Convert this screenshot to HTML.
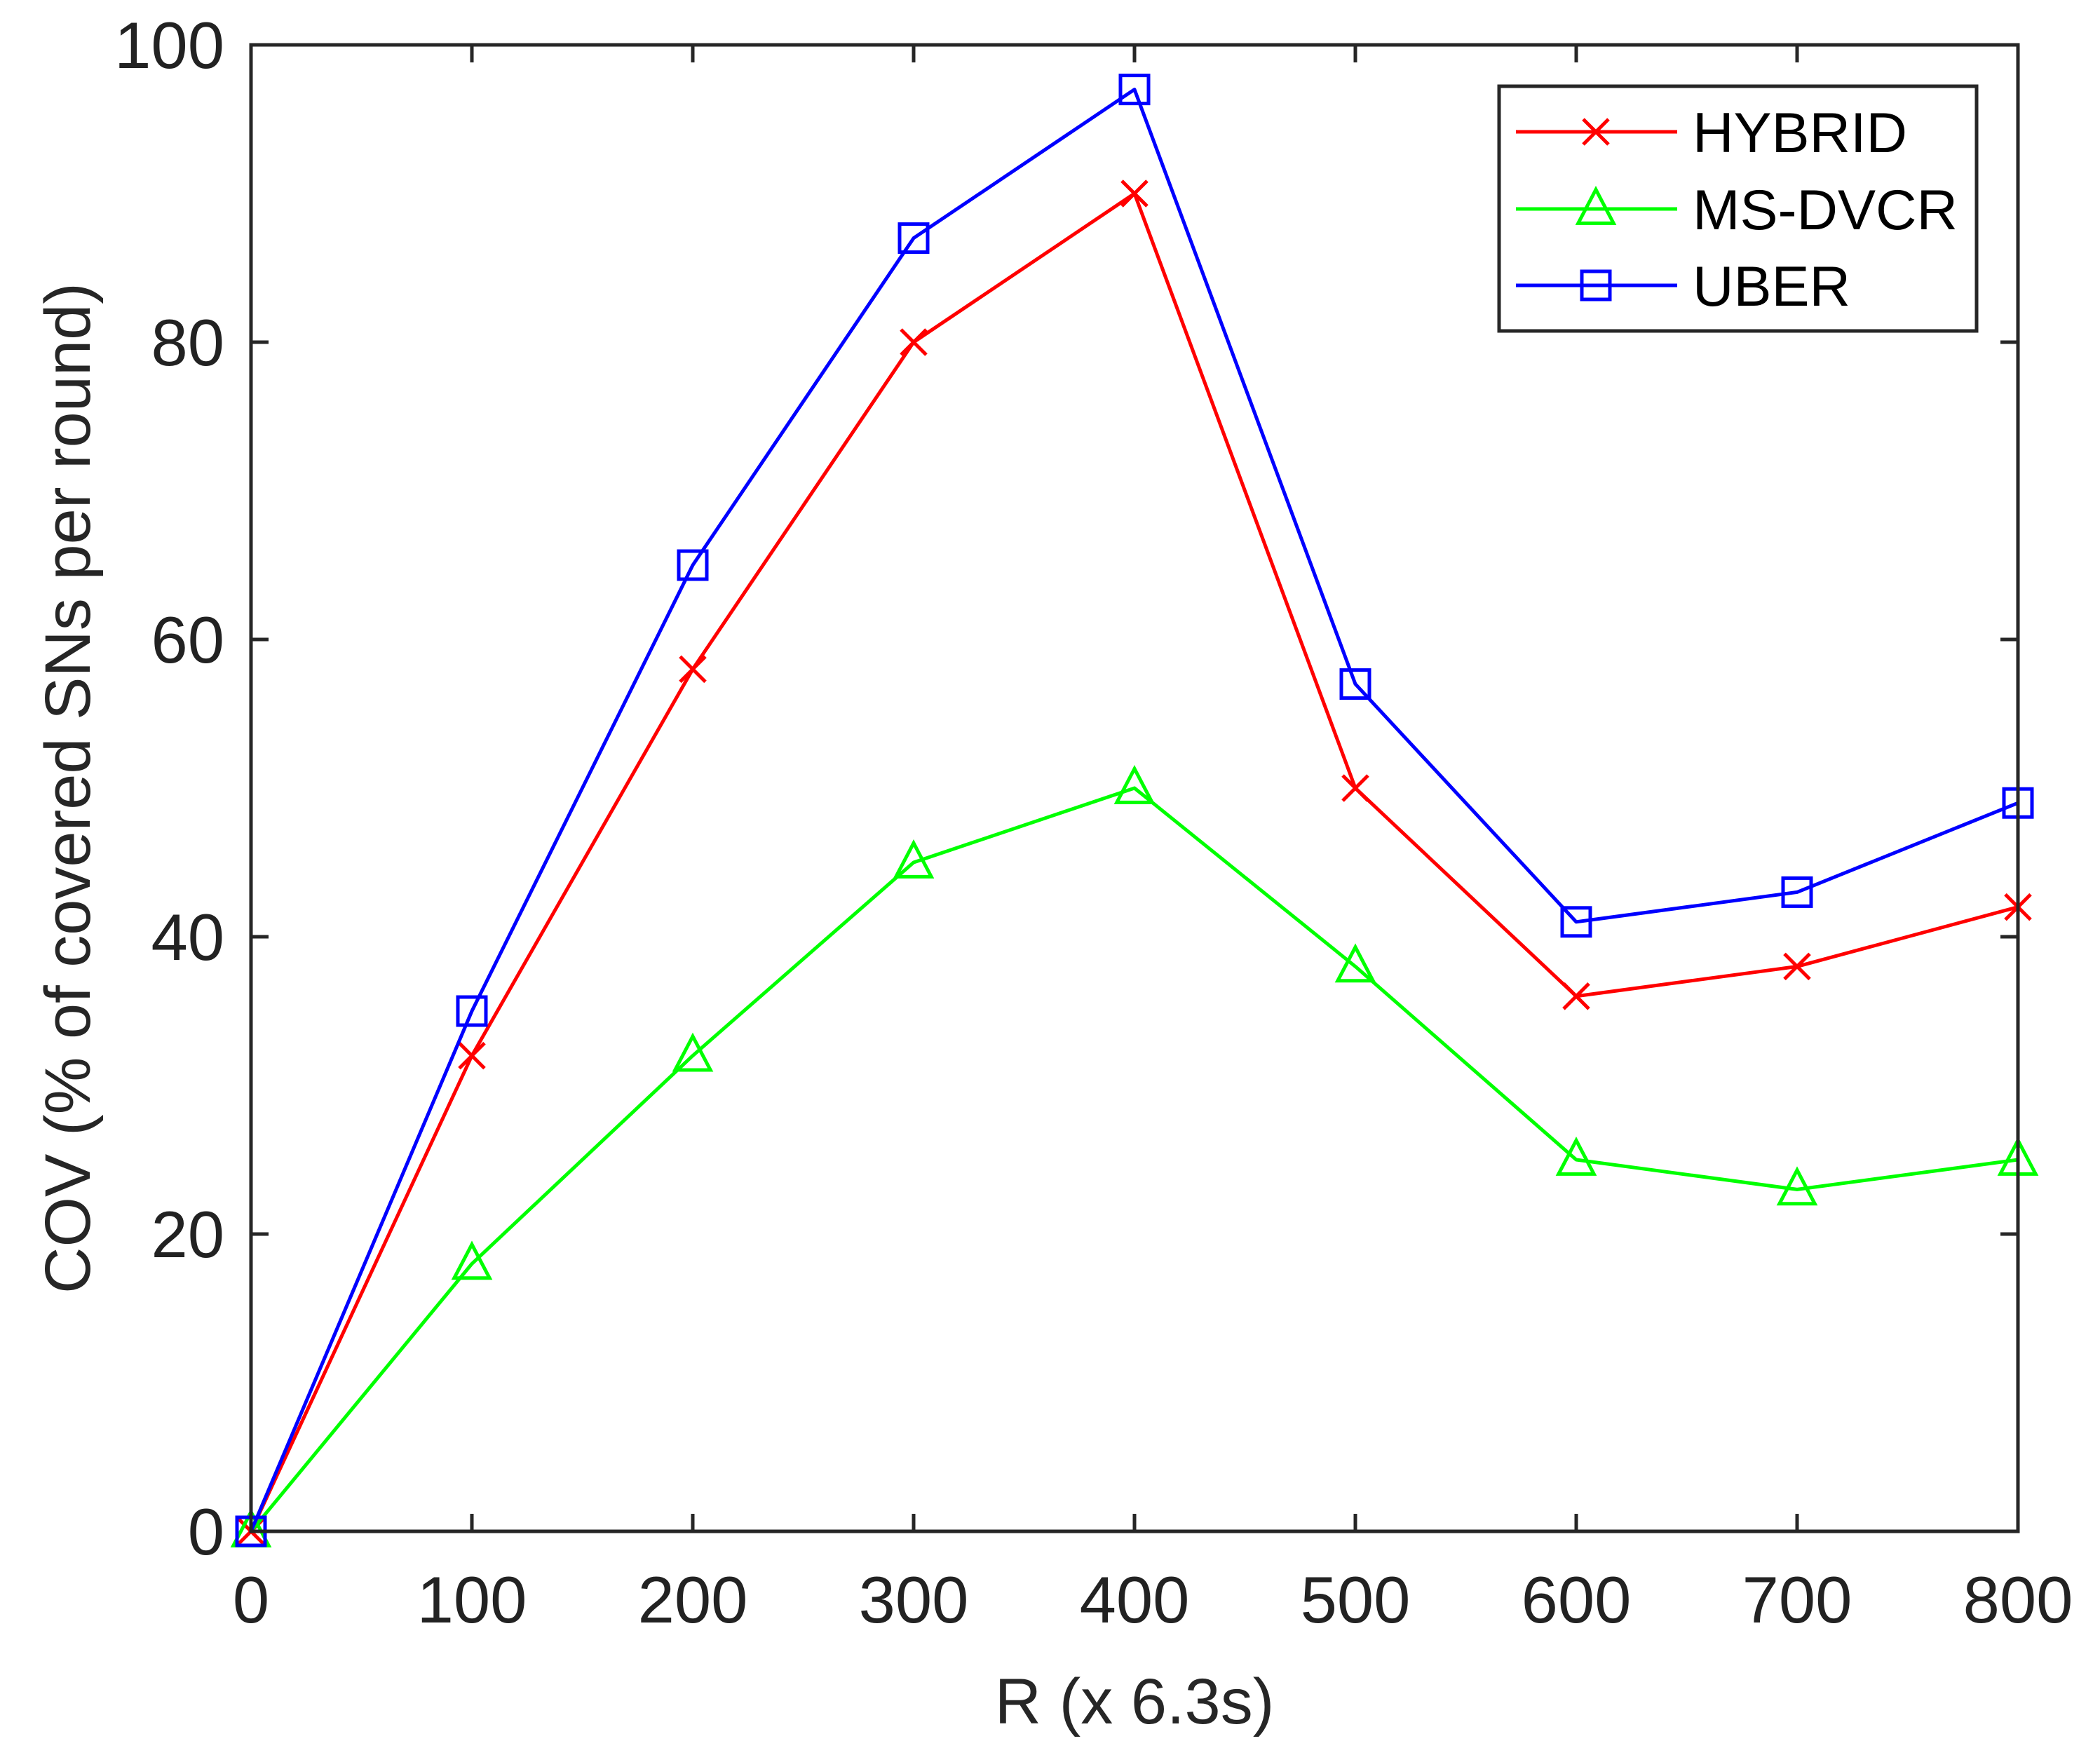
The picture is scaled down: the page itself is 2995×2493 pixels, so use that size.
<!DOCTYPE html>
<html><head><meta charset="utf-8"><style>
html,body{margin:0;padding:0;background:#fff;}
svg{display:block;font-family:"Liberation Sans",Arial,sans-serif;}
</style></head><body>
<svg id="chart" xmlns="http://www.w3.org/2000/svg" width="2995" height="2493" viewBox="0 0 2995 2493">
<rect x="0" y="0" width="2995" height="2493" fill="#fff"/>
<g id="grid"></g>
<g id="series"></g>
<g id="axes"></g>
<g id="legend"></g>
</svg>
<script>
const categories=[0,100,200,300,400,500,600,700,800];
const hybridValues=[0,32,58,80,90,50,36,38,42];
const msdvcrValues=[0,18,32,45,50,38,25,23,25];
const uberValues=[0,35,65,87,97,57,41,43,49];
const xTicks=[0,100,200,300,400,500,600,700,800];
const yTicks=[0,20,40,60,80,100];
const seriesNames=["HYBRID","MS-DVCR","UBER"];

const L=358,R=2878,T=64,B=2184;
const NS="http://www.w3.org/2000/svg";
function xs(v){return L+(v-0)/(800-0)*(R-L);}
function ys(v){return B-(v-0)/(100-0)*(B-T);}
function mk(tag,attrs,parent){const e=document.createElementNS(NS,tag);for(const k in attrs)e.setAttribute(k,attrs[k]);parent.appendChild(e);return e;}
const axes=document.getElementById('axes'),ser=document.getElementById('series'),leg=document.getElementById('legend');

function marker(type,x,y,color,parent){
  let e;
  if(type==='x'){
    const s=18;
    e=mk('path',{d:`M${x-s} ${y-s}L${x+s} ${y+s}M${x-s} ${y+s}L${x+s} ${y-s}`,stroke:color,'stroke-width':5,fill:'none'},parent);
  }else if(type==='tri'){
    const s=24;
    e=mk('polygon',{points:`${x},${y-s*1.15} ${x-s*1.05},${y+s*0.85} ${x+s*1.05},${y+s*0.85}`,stroke:color,'stroke-width':5,fill:'none'},parent);
  }else{
    const s=20;
    e=mk('rect',{x:x-s,y:y-s,width:2*s,height:2*s,stroke:color,'stroke-width':5,fill:'none'},parent);
  }
  return e;
}

const specs=[{vals:hybridValues,color:'#ff0000',m:'x',key:'hybrid'},{vals:msdvcrValues,color:'#00ff00',m:'tri',key:'ms-dvcr'},{vals:uberValues,color:'#0000ff',m:'sq',key:'uber'}];
specs.forEach((s,si)=>{
  const pts=categories.map((c,i)=>xs(c)+','+ys(s.vals[i])).join(' ');
  const pl=mk('polyline',{points:pts,fill:'none',stroke:s.color,'stroke-width':5,'stroke-linejoin':'round'},ser);
  
  
  categories.forEach((c,i)=>{
    const m=marker(s.m,xs(c),ys(s.vals[i]),s.color,ser);
    
    
  });
});

const box=mk('rect',{x:L,y:T,width:R-L,height:B-T,fill:'none',stroke:'#262626','stroke-width':5},axes);


const tl=25;
xTicks.forEach(v=>{
  const x=xs(v);
  mk('line',{x1:x,y1:B,x2:x,y2:B-tl,stroke:'#262626','stroke-width':5},axes);
  mk('line',{x1:x,y1:T,x2:x,y2:T+tl,stroke:'#262626','stroke-width':5},axes);
  const t=mk('text',{x:x,y:2314,'font-size':94,'text-anchor':'middle',fill:'#222'},axes);
  t.textContent=v;
  
  
});
yTicks.forEach(v=>{
  const y=ys(v);
  mk('line',{x1:L,y1:y,x2:L+tl,y2:y,stroke:'#262626','stroke-width':5},axes);
  mk('line',{x1:R,y1:y,x2:R-tl,y2:y,stroke:'#262626','stroke-width':5},axes);
  const t=mk('text',{x:320,y:y+33,'font-size':94,'text-anchor':'end',fill:'#222'},axes);
  t.textContent=v;
  
  
});
const xl=mk('text',{x:(L+R)/2,y:2458,'font-size':92,'text-anchor':'middle',fill:'#262626'},axes);
xl.textContent='R (x 6.3s)';


const yl=mk('text',{x:0,y:0,'font-size':92,'text-anchor':'middle',fill:'#262626',transform:`translate(128,${(T+B)/2}) rotate(-90)`},axes);
yl.textContent='COV (% of covered SNs per round)';



const lb=mk('rect',{x:2138,y:123,width:681,height:349,fill:'#fff',stroke:'#262626','stroke-width':5},leg);


const ly=[188,298,407];
specs.forEach((s,i)=>{
  const g=mk('g',{},leg);
  
  
  mk('line',{x1:2162,y1:ly[i],x2:2392,y2:ly[i],stroke:s.color,'stroke-width':5},g);
  marker(s.m,2276,ly[i],s.color,g);
  const t=mk('text',{x:2414,y:ly[i]+29,'font-size':81,fill:'#000'},g);
  t.textContent=seriesNames[i];
});
</script>
</body></html>
